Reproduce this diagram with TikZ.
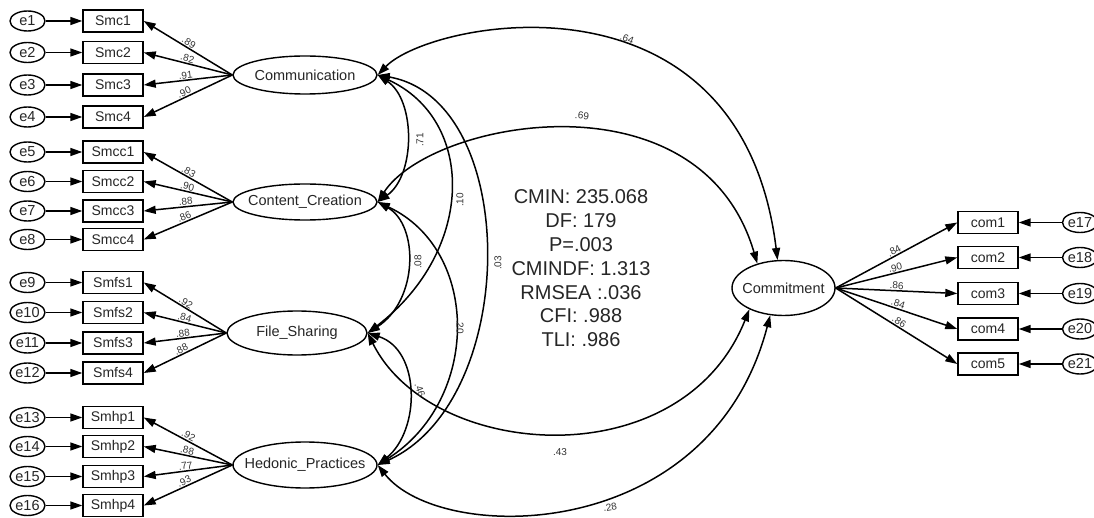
\documentclass[tikz,border=0pt]{standalone}
\usepackage{fontspec}
\setmainfont{Liberation Sans}
\usetikzlibrary{shapes.geometric,arrows.meta}
\begin{document}
\begin{tikzpicture}[x=1pt,y=-1pt,
  lat/.style={ellipse,draw,line width=1.4pt,inner sep=0pt,text=black!85,font=\fontsize{14.5pt}{17pt}\selectfont},
  obs/.style={rectangle,draw,line width=1.4pt,minimum width=60pt,minimum height=22pt,inner sep=0pt,text=black!85,font=\fontsize{14pt}{16pt}\selectfont},
  err/.style={ellipse,draw,line width=1.4pt,minimum width=35pt,minimum height=20pt,inner sep=0pt,text=black!85,font=\fontsize{14.5pt}{16pt}\selectfont},
  arr/.style={line width=1.5pt,-{Triangle[length=12pt,width=8pt]}},
  cov/.style={line width=1.5pt,{Triangle[length=12pt,width=8pt]}-{Triangle[length=12pt,width=8pt]}},
  lbl/.style={font=\fontsize{10pt}{11pt}\selectfont,inner sep=0.8pt,text=black!80},
]
\useasboundingbox[fill=white] (0,0) rectangle (1094,518);
\clip (0,0) rectangle (1094,518);

% latent variables
\node[lat,minimum width=144pt,minimum height=38pt] (Comm) at (305,75) {\makebox[0pt]{Communication}};
\node[lat,minimum width=144pt,minimum height=36pt] (CC) at (305,202) {\makebox[0pt]{Content\_Creation}};
\node[lat,minimum width=140pt,minimum height=44pt] (FS) at (297,333) {\makebox[0pt]{File\_Sharing}};
\node[lat,minimum width=144pt,minimum height=46pt] (HP) at (305,465) {\makebox[0pt]{Hedonic\_Practices}};
\node[lat,minimum width=103pt,minimum height=55pt] (Cmt) at (783.5,288) {\makebox[0pt]{Commitment}};

% left indicators and errors
\foreach \i/\n/\y in {1/Smc1/21, 2/Smc2/52.5, 3/Smc3/85, 4/Smc4/117,
  5/Smcc1/152, 6/Smcc2/181.5, 7/Smcc3/211, 8/Smcc4/239.5,
  9/Smfs1/282.5, 10/Smfs2/312.5, 11/Smfs3/343, 12/Smfs4/373,
  13/Smhp1/417.5, 14/Smhp2/446.5, 15/Smhp3/476.5, 16/Smhp4/505.5}{
  \node[obs] (\n) at (113,\y) {\n};
  \node[err] (e\i) at (27.5,\y) {\makebox[0pt]{e\i}};
  \draw[arr] (e\i) -- (\n);
}

% loadings
\foreach \n/\v in {Smc1/.89, Smc2/.82, Smc3/.91, Smc4/.90}
  \draw[arr] (Comm.west) -- node[lbl,sloped,above,pos=0.52] (l\n) {\v} (\n.east);
\foreach \n/\v in {Smcc1/.83, Smcc2/.90, Smcc3/.88, Smcc4/.86}
  \draw[arr] (CC.west) -- node[lbl,sloped,above,pos=0.52] (l\n) {\v} (\n.east);
\foreach \n/\v in {Smfs1/.92, Smfs2/.84, Smfs3/.88, Smfs4/.88}
  \draw[arr] (FS.west) -- node[lbl,sloped,above,pos=0.52] (l\n) {\v} (\n.east);
\foreach \n/\v in {Smhp1/.92, Smhp2/.88, Smhp3/.77, Smhp4/.93}
  \draw[arr] (HP.west) -- node[lbl,sloped,above,pos=0.52] (l\n) {\v} (\n.east);

% right indicators
\foreach \i/\k/\y/\v in {1/17/222.5/.84, 2/18/257.5/.90, 3/19/293.5/.86, 4/20/329/.84, 5/21/364/.86}{
  \node[obs] (com\i) at (988,\y) {com\i};
  \node[err] (e\k) at (1080,\y) {\makebox[0pt]{e\k}};
  \draw[arr] (e\k) -- (com\i);
  \draw[arr] (Cmt.east) -- node[lbl,sloped,above] (lc\i) {\v} (com\i.west);
}

% covariances
\draw[cov] (Comm.east) .. controls +(53,-55) and +(-37,-300) .. (Cmt.102);
\draw[cov] (CC.east) .. controls +(53,-82) and +(-57,-194) .. (Cmt.137);
\draw[cov] (FS.east) .. controls +(63,127) and +(-68,170) .. (Cmt.-148);
\draw[cov] (HP.east) .. controls +(63,80) and +(-60,230) .. (Cmt.-116);
\draw[cov] (Comm.east) .. controls +(38,25) and +(38,-27) .. (CC.east);
\draw[cov] (Comm.east) .. controls +(98,45) and +(108,-83) .. (FS.east);
\draw[cov] (Comm.east) .. controls +(143,25) and +(143,-65) .. (HP.east);
\draw[cov] (CC.east) .. controls +(41,23) and +(51,-33) .. (FS.east);
\draw[cov] (CC.east) .. controls +(103,48) and +(103,-65) .. (HP.east);
\draw[cov] (FS.east) .. controls +(53,17) and +(43,-35) .. (HP.east);

% covariance labels
\node[lbl,rotate=-20] (c64) at (627,39) {.64};
\node[lbl,rotate=-6] (c69) at (582,116) {.69};
\node[lbl] (c43) at (560,452) {.43};
\node[lbl,rotate=10] (c28) at (610,507) {.28};
\node[lbl,rotate=90] (c71) at (420,140) {.71};
\node[lbl,rotate=90] (c10) at (460,200) {.10};
\node[lbl,rotate=90] (c03) at (498,263) {.03};
\node[lbl,rotate=90] (c08) at (418,262) {.08};
\node[lbl,rotate=-90] (c20) at (460,327) {.20};
\node[lbl,rotate=-70] (c46) at (420,390) {.46};

% fit statistics
\node[font=\fontsize{20pt}{23.8pt}\selectfont,align=center,text=black!85,inner sep=0pt] (fit) at (581,268.5)
  {CMIN: 235.068\\DF: 179\\P=.003\\CMINDF: 1.313\\RMSEA :.036\\CFI: .988\\TLI: .986};
\end{tikzpicture}
\end{document}
